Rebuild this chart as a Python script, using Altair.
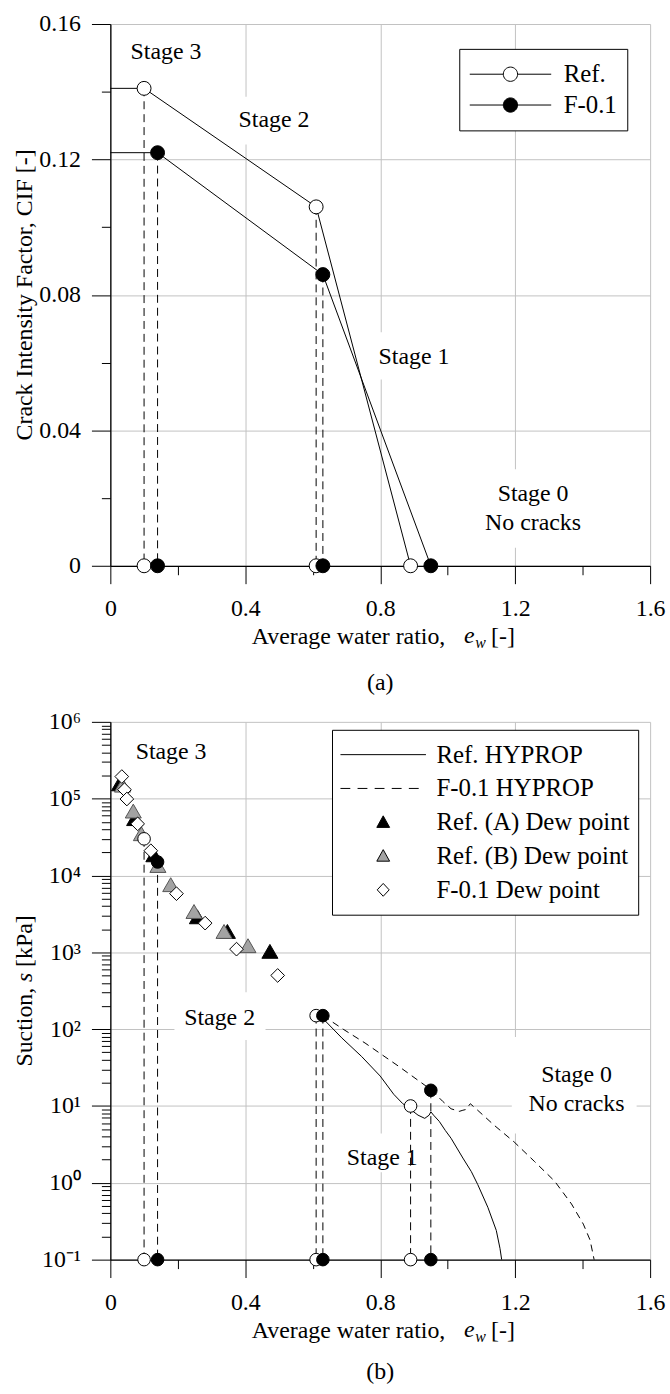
import altair as alt
import pandas as pd

FONT = "Liberation Serif"
FS = 24
W = 543
HA = 545
HB = 541

# ---------------- Panel (a): Crack Intensity Factor ----------------
a_ref_x = [0.0, 0.10, 0.61, 0.89]
a_ref_y = [0.141, 0.141, 0.106, 0.0]
a_f_x = [0.0, 0.14, 0.63, 0.95]
a_f_y = [0.122, 0.122, 0.086, 0.0]

a_open_x = [0.10, 0.61, 0.10, 0.61, 0.89]
a_open_y = [0.141, 0.106, 0.0, 0.0, 0.0]
a_fill_x = [0.14, 0.63, 0.14, 0.63, 0.95]
a_fill_y = [0.122, 0.086, 0.0, 0.0, 0.0]

a_drop_x = [0.10, 0.14, 0.61, 0.63]
a_drop_top = [0.141, 0.122, 0.106, 0.086]
a_drop_bot = [0.0, 0.0, 0.0, 0.0]

a_note_text = ["Stage 3", "Stage 2", "Stage 1", "Stage 0", "No cracks"]
a_note_x = [0.165, 0.485, 0.90, 1.253, 1.253]
a_note_y = [0.1517, 0.1317, 0.0617, 0.0212, 0.0126]

a_box_x1 = [0.36, 0.79, 1.10]
a_box_x2 = [0.61, 1.02, 1.40]
a_box_y1 = [0.1244, 0.055, 0.0053]
a_box_y2 = [0.1385, 0.069, 0.0285]

a_legend = ["Ref.", "F-0.1"]

# ---------------- Panel (b): Suction ----------------
b_ref_hyp_x = [0.625, 0.686, 0.745, 0.80, 0.84, 0.866, 0.89, 0.912, 0.932, 0.945, 0.95,
               0.958, 0.975, 0.993, 1.01, 1.045, 1.07, 1.089, 1.119, 1.144, 1.155, 1.16]
b_ref_hyp_y = [145, 77, 44, 24.5, 14.2, 10.8, 9.0, 7.6, 6.9, 7.6, 8.4,
               7.6, 6.3, 4.8, 3.8, 2.1, 1.4, 0.95, 0.48, 0.24, 0.14, 0.1]

b_f_hyp_x = [0.63, 0.69, 0.755, 0.854, 0.953, 0.985, 1.01, 1.034, 1.045, 1.054, 1.067,
             1.084, 1.138, 1.197, 1.257, 1.317, 1.367, 1.402, 1.422, 1.434]
b_f_hyp_y = [150, 100, 66, 33, 16, 11.5, 9.2, 8.5, 8.8, 9.0, 10.7,
             9.2, 5.6, 3.4, 1.9, 1.05, 0.53, 0.29, 0.18, 0.1]

b_dewA_x = [0.027, 0.072, 0.129, 0.258, 0.347, 0.473]
b_dewA_y = [156000, 55000, 18600, 2900, 1870, 1030]
b_dewB_x = [0.036, 0.068, 0.092, 0.141, 0.179, 0.248, 0.337, 0.408]
b_dewB_y = [150000, 69000, 35000, 13500, 7600, 3400, 1870, 1220]
b_dewF_x = [0.034, 0.042, 0.049, 0.081, 0.120, 0.196, 0.281, 0.374, 0.496]
b_dewF_y = [194000, 131000, 99000, 47000, 21000, 5800, 2400, 1100, 500]

b_open_x = [0.10, 0.61, 0.89, 0.10, 0.61, 0.89]
b_open_y = [30000, 150, 10, 0.1, 0.1, 0.1]
b_fill_x = [0.14, 0.63, 0.95, 0.14, 0.63, 0.95]
b_fill_y = [15000, 150, 16, 0.1, 0.1, 0.1]

b_drop_x = [0.10, 0.14, 0.61, 0.63, 0.89, 0.95]
b_drop_top = [30000, 15000, 150, 150, 10, 16]
b_drop_bot = [0.1, 0.1, 0.1, 0.1, 0.1, 0.1]

b_note_text = ["Stage 3", "Stage 2", "Stage 1", "Stage 0", "No cracks"]
b_note_x = [0.18, 0.324, 0.806, 1.382, 1.382]
b_note_y = [400000, 140, 2.07, 25, 10.6]

b_box_x1 = [0.19, 0.74, 1.19]
b_box_x2 = [0.46, 0.86, 1.56]
b_box_y1 = [72, 1.37, 4.4]
b_box_y2 = [302, 4.4, 79]

b_legend = ["Ref. HYPROP", "F-0.1 HYPROP", "Ref. (A) Dew point",
            "Ref. (B) Dew point", "F-0.1 Dew point"]

# ---------------- tick values ----------------
x_ticks = [0.0, 0.2, 0.4, 0.6, 0.8, 1.0, 1.2, 1.4, 1.6]
ya_ticks = [0.0, 0.02, 0.04, 0.06, 0.08, 0.10, 0.12, 0.14, 0.16]
yb_ticks = [m * 10.0 ** e for e in range(-1, 6) for m in range(1, 10)] + [1e6]


def mk_axis(values, test, label_expr, major_len, minor_len, pad):
    return alt.Axis(
        values=values, title=None, labelExpr=label_expr,
        labelFont=FONT, labelFontSize=FS, labelColor="black", labelPadding=pad,
        labelFlush=False, labelOverlap=False,
        domainColor="black", domainWidth=1.3, tickColor="black", tickWidth=1,
        tickSize={"condition": {"test": test, "value": major_len}, "value": minor_len},
        grid=True, gridColor="#c2c2c2", gridWidth=1,
        gridOpacity={"condition": {"test": test, "value": 1}, "value": 0},
    )


x_test = "abs(datum.value / 0.4 - round(datum.value / 0.4)) < 0.001"
x_axis = mk_axis(x_ticks, x_test,
                 f"{x_test} ? (datum.value == 0 ? '0' : format(datum.value, '.1f')) : ''",
                 18, 9, 13)
ya_test = "abs(datum.value / 0.04 - round(datum.value / 0.04)) < 0.001"
ya_axis = mk_axis(ya_ticks, ya_test,
                  f"{ya_test} ? (datum.value == 0 ? '0' : format(datum.value, '.2f')) : ''",
                  19, 9, 11)
yb_test = "abs(log(datum.value) / LN10 - round(log(datum.value) / LN10)) < 0.001"
yb_axis = mk_axis(yb_ticks, yb_test,
                  f"{yb_test} ? '10' + ['⁻¹','⁰','¹','²','³','⁴','⁵','⁶'][round(log(datum.value) / LN10) + 1] : ''",
                  19, 9, 11)

xs = alt.Scale(domain=[0, 1.6], nice=False, zero=False)
yas = alt.Scale(domain=[0, 0.16], nice=False, zero=False)
ybs = alt.Scale(type="log", domain=[0.1, 1e6], nice=False)


def X(f="x"):
    return alt.X(f, type="quantitative", scale=xs, axis=x_axis)


def Y(panel, f="y"):
    if panel == "a":
        return alt.Y(f, type="quantitative", scale=yas, axis=ya_axis)
    return alt.Y(f, type="quantitative", scale=ybs, axis=yb_axis)


one = pd.DataFrame({"k": [0]})


def txt(text, x, y, size=FS, style="normal", align="center", angle=0):
    return alt.Chart(one).mark_text(
        text=text, font=FONT, fontSize=size, fontStyle=style, align=align,
        baseline="middle", angle=angle, color="black"
    ).encode(x=alt.value(x), y=alt.value(y))


def circle_path(r, k=0.5523):
    kr = round(k * r, 4)
    r = round(r, 4)
    return (f"M{r},0C{r},{kr} {kr},{r} 0,{r}C{-kr},{r} {-r},{kr} {-r},0"
            f"C{-r},{-kr} {-kr},{-r} 0,{-r}C{kr},{-r} {r},{-kr} {r},0Z")


def x_title(h):
    return [
        txt("Average water ratio,", 337, h + 72, align="right"),
        txt("e", 361, h + 71, style="italic"),
        txt("w", 367, h + 78, size=16, style="italic", align="left"),
        txt("[-]", 383, h + 72, align="left"),
    ]


def panel_layers(panel, line_specs, open_x, open_y, fill_x, fill_y, drop_x, drop_top, drop_bot,
                 note_text, note_x, note_y, bx1, bx2, by1, by2, pt_size):
    boxes = alt.Chart(pd.DataFrame({"x": bx1, "x2": bx2, "y": by1, "y2": by2})).mark_rect(
        fill="white").encode(x=X(), x2="x2", y=Y(panel), y2="y2")
    drops = alt.Chart(pd.DataFrame({"x": drop_x, "y": drop_top, "y2": drop_bot})).mark_rule(
        color="black", strokeWidth=1, strokeDash=[8, 5]).encode(x=X(), y=Y(panel), y2="y2")
    layers = [boxes, drops] + line_specs
    opn = alt.Chart(pd.DataFrame({"x": open_x, "y": open_y})).mark_point(
        shape="circle", filled=True, fill="white", stroke="black", strokeWidth=1,
        size=pt_size, opacity=1).encode(x=X(), y=Y(panel))
    fil = alt.Chart(pd.DataFrame({"x": fill_x, "y": fill_y})).mark_point(
        shape="circle", filled=True, fill="black", stroke="black", strokeWidth=1,
        size=pt_size, opacity=1).encode(x=X(), y=Y(panel))
    notes = alt.Chart(pd.DataFrame({"x": note_x, "y": note_y, "t": note_text})).mark_text(
        font=FONT, fontSize=FS, color="black", align="center", baseline="middle").encode(
        x=X(), y=Y(panel), text="t:N")
    return layers + [opn, fil, notes]


def legend_layer(panel, labels, paths, fills, leg, yval):
    n = len(labels)
    df = pd.DataFrame({"series": labels, "x": [-1.0] * n, "y": [yval] * n})
    return alt.Chart(df).mark_point(
        filled=True, opacity=1, clip=True, size=10, strokeWidth=1).encode(
        x=X(), y=Y(panel),
        shape=alt.Shape("series:N", sort=labels,
                        scale=alt.Scale(domain=labels, range=paths), legend=leg),
        fill=alt.Fill("series:N", sort=labels,
                      scale=alt.Scale(domain=labels, range=fills), legend=leg),
        stroke=alt.Stroke("series:N", sort=labels,
                          scale=alt.Scale(domain=labels, range=["black"] * n), legend=leg),
    )


# ----- panel (a) -----
a_lines = [
    alt.Chart(pd.DataFrame({"x": a_ref_x, "y": a_ref_y, "o": range(len(a_ref_x))})).mark_line(
        color="black", strokeWidth=1).encode(x=X(), y=Y("a"), order="o:Q"),
    alt.Chart(pd.DataFrame({"x": a_f_x, "y": a_f_y, "o": range(len(a_f_x))})).mark_line(
        color="black", strokeWidth=1).encode(x=X(), y=Y("a"), order="o:Q"),
]

ra = 0.175
path_a = f"M-1,0L{-ra},0M{ra},0L1,0" + circle_path(ra)
leg_a = alt.Legend(
    title=None, orient="none", legendX=351, legendY=25, direction="vertical",
    symbolSize=82 * 82, symbolStrokeColor="black", symbolStrokeWidth=1,
    labelFont=FONT, labelFontSize=25, labelColor="black", labelOffset=12, labelLimit=500,
    clipHeight=31, rowPadding=0, padding=10, strokeColor="black", fillColor="white",
    cornerRadius=0,
)
legend_a = legend_layer("a", a_legend, [path_a, path_a], ["white", "black"], leg_a, 0.05)

panel_a = alt.layer(
    *panel_layers("a", a_lines, a_open_x, a_open_y, a_fill_x, a_fill_y, a_drop_x, a_drop_top,
                  a_drop_bot, a_note_text, a_note_x, a_note_y,
                  a_box_x1, a_box_x2, a_box_y1, a_box_y2, 196),
    legend_a,
    txt("Crack Intensity Factor, CIF [-]", -86, HA / 2, angle=270),
    *x_title(HA),
    txt("(a)", W / 2, HA + 118),
).properties(width=W, height=HA)

# ----- panel (b) -----
b_lines = [
    alt.Chart(pd.DataFrame({"x": b_ref_hyp_x, "y": b_ref_hyp_y, "o": range(len(b_ref_hyp_x))})).mark_line(
        color="black", strokeWidth=1).encode(x=X(), y=Y("b"), order="o:Q"),
    alt.Chart(pd.DataFrame({"x": b_f_hyp_x, "y": b_f_hyp_y, "o": range(len(b_f_hyp_x))})).mark_line(
        color="black", strokeWidth=1, strokeDash=[7, 5]).encode(x=X(), y=Y("b"), order="o:Q"),
    alt.Chart(pd.DataFrame({"x": b_dewA_x, "y": b_dewA_y})).mark_point(
        shape="triangle-up", filled=True, fill="black", stroke="black", strokeWidth=1,
        size=260, opacity=1).encode(x=X(), y=Y("b")),
    alt.Chart(pd.DataFrame({"x": b_dewB_x, "y": b_dewB_y})).mark_point(
        shape="triangle-up", filled=True, fill="#a3a3a3", stroke="#555555", strokeWidth=1,
        size=260, opacity=1).encode(x=X(), y=Y("b")),
    alt.Chart(pd.DataFrame({"x": b_dewF_x, "y": b_dewF_y})).mark_point(
        shape="diamond", filled=True, fill="white", stroke="black", strokeWidth=1,
        size=190, opacity=1).encode(x=X(), y=Y("b")),
]

dash_path = ""
pos = -1.0
for _ in range(5):
    dash_path += f"M{pos:.3f},0L{pos + 0.23:.3f},0"
    pos += 0.4
path_solid = "M-1,0L1,0"
path_tri = "M0,-0.15L0.15,0.12L-0.15,0.12Z"
path_dia = "M0,-0.15L0.14,0L0,0.15L-0.14,0Z"

leg_b = alt.Legend(
    title=None, orient="none", legendX=223, legendY=8, direction="vertical",
    symbolSize=86 * 86, symbolStrokeColor="black", symbolStrokeWidth=1,
    labelFont=FONT, labelFontSize=25, labelColor="black", labelOffset=10, labelLimit=500,
    clipHeight=34, rowPadding=0, padding=8, strokeColor="black", fillColor="white",
    cornerRadius=0,
)
legend_b = legend_layer("b", b_legend, [path_solid, dash_path, path_tri, path_tri, path_dia],
                        ["black", "black", "black", "#a3a3a3", "white"], leg_b, 1.0)

panel_b = alt.layer(
    *panel_layers("b", b_lines, b_open_x, b_open_y, b_fill_x, b_fill_y, b_drop_x, b_drop_top,
                  b_drop_bot, b_note_text, b_note_x, b_note_y,
                  b_box_x1, b_box_x2, b_box_y1, b_box_y2, 160),
    legend_b,
    txt("Suction,", -86, HB / 2 - 3, angle=270, align="right"),
    txt("s", -86, HB / 2 - 13.5, angle=270, style="italic"),
    txt("[kPa]", -86, HB / 2 - 24, angle=270, align="left"),
    *x_title(HB),
    txt("(b)", W / 2, HB + 113),
).properties(width=W, height=HB)

chart = alt.vconcat(panel_a, panel_b, spacing=157, bounds="flush").resolve_scale(
    x="independent", y="independent", shape="independent", fill="independent",
    stroke="independent"
).properties(
    padding={"left": 13, "top": 8, "right": 5, "bottom": 5}, background="white"
).configure_view(stroke=None)

chart.save("out.html", embed_options={"renderer": "svg", "actions": False})
